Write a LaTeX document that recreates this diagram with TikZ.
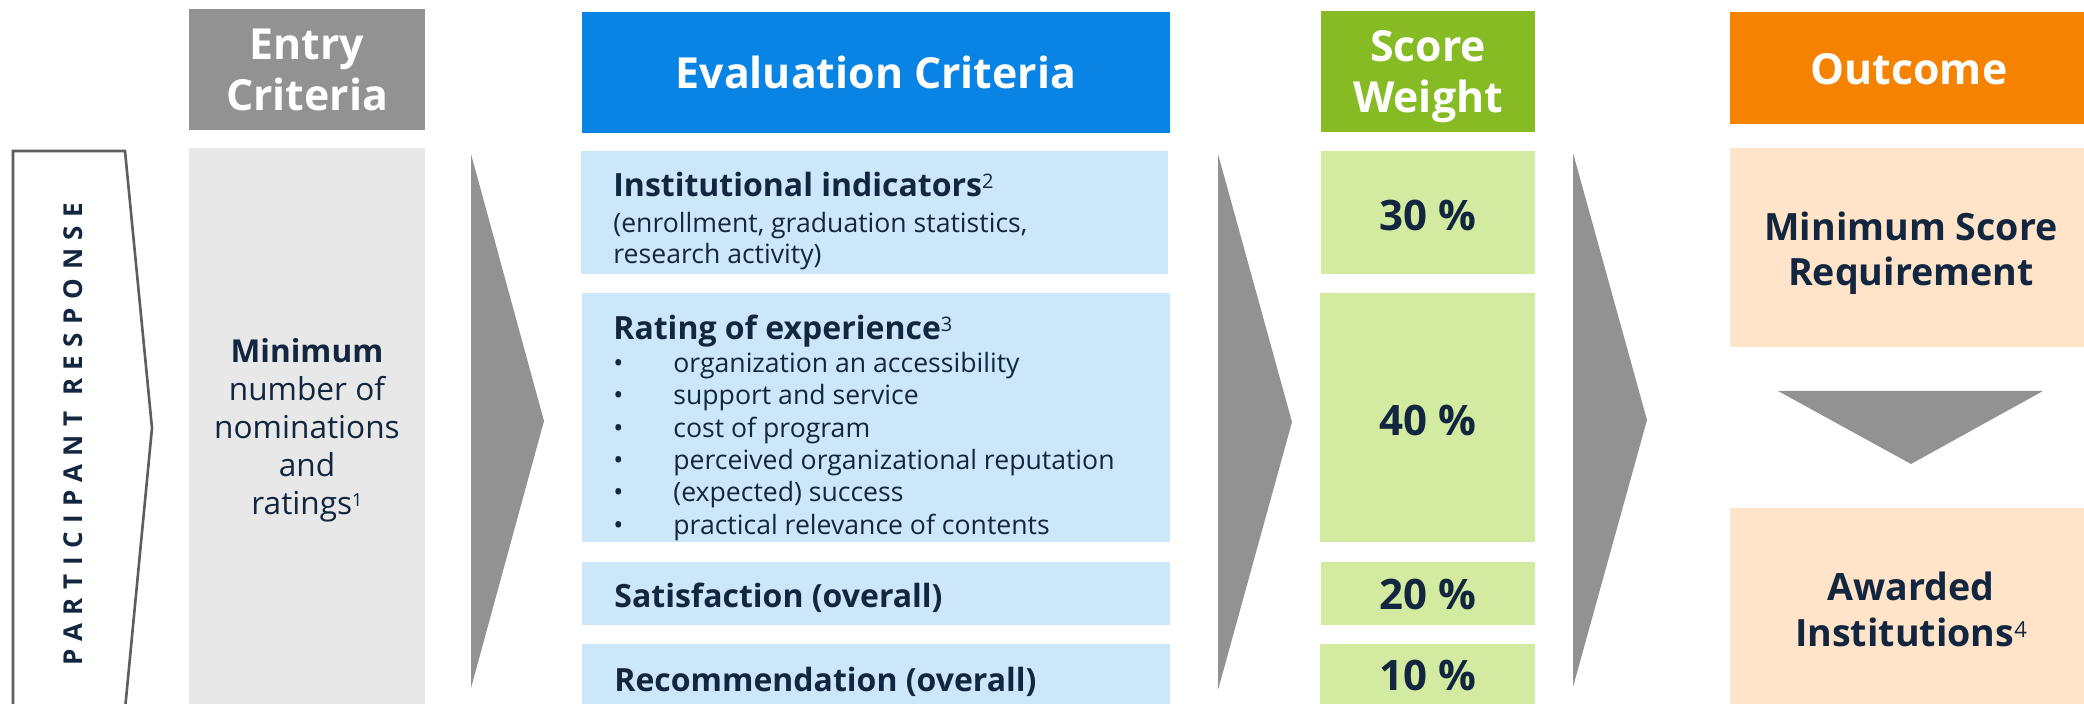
\documentclass[tikz,border=0pt]{standalone}
\usepackage{fontspec}
\setmainfont{Open Sans}
\usetikzlibrary{fit}
\definecolor{navy}{HTML}{12263F}
\definecolor{hgray}{HTML}{929292}
\definecolor{hblue}{HTML}{0A84E4}
\definecolor{hgreen}{HTML}{86BB24}
\definecolor{horange}{HTML}{F58200}
\definecolor{lgray}{HTML}{E8E8E8}
\definecolor{lblue}{HTML}{CCE6FA}
\definecolor{lgreen}{HTML}{D3EBA1}
\definecolor{lorange}{HTML}{FFE4C9}
\definecolor{edge}{HTML}{5E5E5E}
\newcommand\supnum[3]{\raisebox{#2}{\fontsize{#1}{#1}\selectfont\mdseries #3}}
\newcommand\bul{\makebox[30pt][l]{\textbullet}}
\begin{document}
\begin{tikzpicture}[x=0.5pt,y=-0.5pt,
  panel/.style={inner sep=0pt, outer sep=0pt, draw=none},
  headtxt/.style={inner sep=0pt, anchor=base, text=white, font=\fontsize{21.4}{25}\selectfont\bfseries},
  bodytxt/.style={inner sep=0pt, anchor=base west, text=navy, font=\fontsize{13.3}{16}\selectfont},
  subhead/.style={inner sep=0pt, anchor=base west, text=navy, font=\fontsize{16}{19}\selectfont\bfseries},
  entrytxt/.style={inner sep=0pt, anchor=base, text=navy, font=\fontsize{15.8}{19}\selectfont},
  pcttxt/.style={inner sep=0pt, anchor=base, text=navy, font=\fontsize{21}{25}\selectfont\bfseries},
  outtxt/.style={inner sep=0pt, anchor=base, text=navy, font=\fontsize{18.8}{22}\selectfont\bfseries},
  chevron/.style={fill=hgray, draw=none}
]
\useasboundingbox (0,0) rectangle (2084,704);
\clip (0,0) rectangle (2084,704);

% participant response pentagon
\draw[edge, line width=1.3pt, fill=white, line join=miter]
  (13,720) -- (13,151) -- (125,151) -- (152,428) -- (124,720);
\node[inner sep=0pt, rotate=90, text=navy, font=\fontsize{13}{15}\selectfont\bfseries] (pr) at (73,434)
  {\addfontfeature{LetterSpace=33}PARTICIPANT RESPONSE};

% headers
\node[panel, fill=hgray, fit={(189,9)(425,130)}] (entryhead) {};
\node[headtxt] (entryh1) at (307,60) {Entry};
\node[headtxt] (entryh2) at (307,111) {Criteria};

\node[panel, fill=hblue, fit={(582,12)(1170,133)}] (evalhead) {};
\node[headtxt] (evalh) at (876,89) {Evaluation Criteria};

\node[panel, fill=hgreen, fit={(1321,11)(1535,132)}] (scorehead) {};
\node[headtxt] (scoreh1) at (1428,62) {Score};
\node[headtxt] (scoreh2) at (1428,113) {Weight};

\node[panel, fill=horange, fit={(1730,12)(2084,124)}] (outhead) {};
\node[headtxt] (outh) at (1909,85) {Outcome};

% entry body
\node[panel, fill=lgray, fit={(189,148)(425,704)}] (entrybox) {};
\node[entrytxt, font=\fontsize{15.8}{19}\selectfont\bfseries] (e1) at (307,363) {Minimum};
\node[entrytxt] (e2) at (307,401) {number of};
\node[entrytxt] (e3) at (307,439) {nominations};
\node[entrytxt] (e4) at (307,477) {and};
\node[entrytxt] (e5) at (307,515) {ratings\supnum{9}{4.2pt}{1}};

% chevrons
\fill[chevron] (471,154) -- (544,421) -- (471,688) -- cycle;
\fill[chevron] (1218,154) -- (1292,422) -- (1218,690) -- cycle;
\fill[chevron] (1573,153) -- (1647,420) -- (1573,687) -- cycle;

% evaluation boxes
\node[panel, fill=lblue, fit={(581,151)(1168,274)}] (instbox) {};
\node[subhead] (inst1) at (613,197) {Institutional indicators\supnum{10}{4.2pt}{2}};
\node[bodytxt] (inst2) at (613,233) {(enrollment, graduation statistics,};
\node[bodytxt] (inst3) at (613,264) {research activity)};

\node[panel, fill=lblue, fit={(582,293)(1170,542)}] (ratebox) {};
\node[subhead] (rate0) at (613,340) {Rating of experience\supnum{10}{4.2pt}{3}};
\node[bodytxt] (rate1) at (613,373) {\bul organization an accessibility};
\node[bodytxt] (rate2) at (613,405) {\bul support and service};
\node[bodytxt] (rate3) at (613,438) {\bul cost of program};
\node[bodytxt] (rate4) at (613,470) {\bul perceived organizational reputation};
\node[bodytxt] (rate5) at (613,502) {\bul (expected) success};
\node[bodytxt] (rate6) at (613,535) {\bul practical relevance of contents};

\node[panel, fill=lblue, fit={(582,562)(1170,625)}] (satbox) {};
\node[subhead] (sat) at (614,608) {Satisfaction (overall)};

\node[panel, fill=lblue, fit={(582,644)(1170,704)}] (recbox) {};
\node[subhead] (rec) at (614,692) {Recommendation (overall)};

% score boxes
\node[panel, fill=lgreen, fit={(1321,151)(1535,274)}] (s30box) {};
\node[pcttxt] (s30) at (1428,231) {30 \%};
\node[panel, fill=lgreen, fit={(1320,293)(1535,542)}] (s40box) {};
\node[pcttxt] (s40) at (1428,436) {40 \%};
\node[panel, fill=lgreen, fit={(1321,562)(1535,625)}] (s20box) {};
\node[pcttxt] (s20) at (1428,610) {20 \%};
\node[panel, fill=lgreen, fit={(1320,644)(1535,704)}] (s10box) {};
\node[pcttxt] (s10) at (1428,691) {10 \%};

% outcome
\node[panel, fill=lorange, fit={(1730,148)(2084,347)}] (minbox) {};
\node[outtxt] (min1) at (1911,241) {Minimum Score};
\node[outtxt] (min2) at (1911,286) {Requirement};
\fill[chevron] (1778,391) -- (2043,391) -- (1911,464) -- cycle;
\node[panel, fill=lorange, fit={(1730,508)(2084,704)}] (awbox) {};
\node[outtxt] (aw1) at (1911,601) {Awarded};
\node[outtxt] (aw2) at (1911,647) {Institutions\supnum{11}{4.5pt}{4}};
\end{tikzpicture}
\end{document}
